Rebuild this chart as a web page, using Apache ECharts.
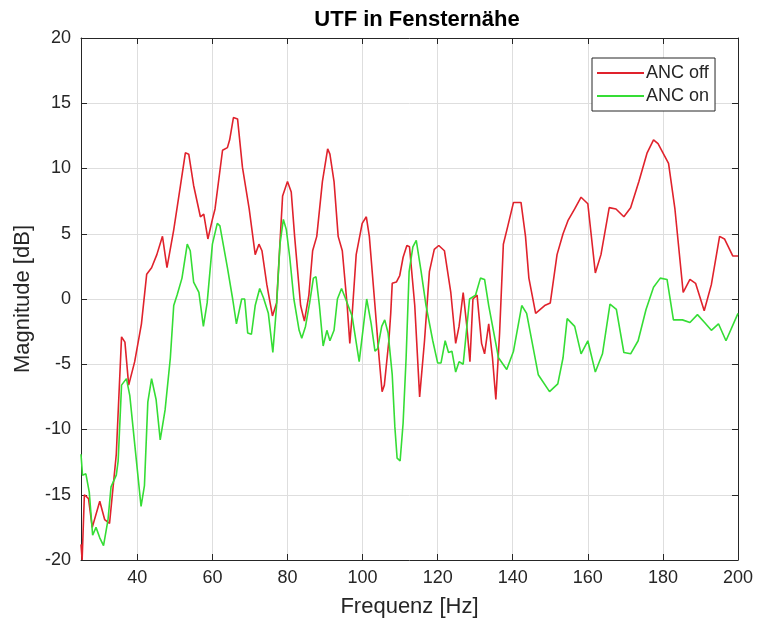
<!DOCTYPE html>
<html>
<head>
<meta charset="utf-8">
<script src="https://cdn.jsdelivr.net/npm/echarts@6/dist/echarts.min.js"></script>
<style>html,body{margin:0;padding:0;background:#fff;}#c{width:758px;height:626px;}</style>
</head>
<body>
<div id="c"></div>
<script>
const xTicks = [40, 60, 80, 100, 120, 140, 160, 180, 200];
const seriesNames = ['ANC off', 'ANC on'];

const offFreq = [25,25.3,25.9,27,28,30,31.3,32.6,34.4,35.8,36.7,37.7,39.3,41.1,42.5,43.8,45.2,46.7,47.9,49.7,51.5,52.8,53.7,55,56.8,57.7,58.8,60,60.7,62.7,64,64.6,65.6,66.7,68,69.8,71.4,72.4,73.2,74.5,76,77.1,78.7,80,81,81.9,83.5,84.5,85.7,86.7,87.8,89.3,90.7,91.3,92.4,93.5,94.6,95.9,96.6,97.2,98.3,99.9,101,101.8,103.3,104.4,105.2,105.8,107,107.5,107.9,109,109.9,110.8,111.8,112.5,113.9,115.2,116.5,117.8,119.1,120.3,121.8,123.5,124.8,125.7,126.8,127.7,128.6,129.4,130.5,131.7,132.5,133.6,134.6,135.5,136.5,137.5,138.7,140.2,142.2,143.4,144.3,146.1,148.5,150,151.8,153.4,154.7,156.5,158.2,160,162,163.5,165.7,167.5,169.6,171.4,173.6,175.8,177.5,178.7,181.5,183.2,185.4,187.2,188.7,191,192.9,195.1,196.4,198.6,200];
const offMag = [-18.8,-20,-15,-15.3,-17.5,-15.5,-16.9,-17.2,-11.9,-2.9,-3.3,-6.6,-4.8,-1.9,1.9,2.4,3.4,4.8,2.4,5.3,8.7,11.2,11.1,8.7,6.3,6.5,4.6,6.1,6.9,11.4,11.6,12.2,13.9,13.8,10.1,6.9,3.4,4.2,3.7,1.1,-1.3,-0.3,7.9,9,8.2,4.8,-0.5,-1.7,0.3,3.7,4.8,9,11.5,11.1,9,4.8,3.7,-0.5,-3.4,-1.3,3.4,5.8,6.3,4.8,-0.5,-4.5,-7.1,-6.6,-3.2,-1.1,1.2,1.3,1.8,3.2,4.1,4,-0.5,-7.5,-3.2,2.1,3.8,4.1,3.7,0.5,-3.4,-2.1,0.5,-1.9,-4.8,0,0.3,-3.4,-4.2,-1.9,-4.5,-7.7,-2.6,4.2,5.6,7.4,7.4,4.8,1.6,-1.1,-0.5,-0.3,3.4,5,6,6.9,7.8,7.3,2,3.4,7,6.9,6.3,7,9,11.2,12.2,11.9,10.4,6.9,0.5,1.5,1.2,-0.9,1.1,4.8,4.6,3.3,3.3];

const onFreq = [25,25.4,26.3,27.2,28.1,29,30,31,32.2,33,34.4,34.9,35.8,37.1,38,39.3,41,41.9,42.8,43.8,45,46.1,47.4,48.8,49.7,50.6,51.9,53.3,54.1,55,56.4,57.6,58.6,60,61.3,62,64,65.4,66.4,67.8,68.6,69.4,70.4,71.4,72.6,73.6,74.9,76.1,77.1,78,78.9,79.7,80.6,81.7,83.1,83.8,84.8,85.9,86.9,87.6,88.5,89.5,90.5,91.3,92.4,93.3,94.4,95.5,97.2,99.1,100.3,101.1,102.3,103.3,104,105.1,105.9,106.8,107.9,108.6,109.2,110,110.8,111.6,112.4,113.4,114.3,115.6,116.9,118.7,120,120.9,122,122.9,123.8,124.8,125.7,126.8,128.5,130.1,131.4,132.5,133.6,136.2,138.4,140.2,142.4,143.7,146.8,149.8,152,153.4,154.5,156.5,158.2,160,162,163.9,165.9,167.6,169.6,171.4,173.4,175.5,177.5,179.3,181.1,182.8,185.2,187.2,189.2,191.1,192.9,194.8,196.8,200];
const onMag = [-11.9,-13.5,-13.4,-14.8,-18.1,-17.5,-18.3,-18.9,-16.9,-14.4,-13.5,-12.4,-6.6,-6.1,-7.4,-11.1,-15.9,-14.3,-7.9,-6.1,-7.7,-10.8,-8.5,-4.5,-0.5,0.3,1.6,4.2,3.7,1.3,0.5,-2.1,-0.3,4.2,5.8,5.6,2.4,0,-1.9,0,0,-2.6,-2.7,-0.5,0.8,0.1,-1.1,-4.1,-0.5,4.2,6.1,5.3,3.2,0,-2.4,-3,-2.1,-0.3,1.6,1.7,-0.5,-3.6,-2.4,-3.2,-2.4,0,0.8,0,-1.3,-4.8,-1.9,0,-1.9,-4,-3.8,-2.1,-1.6,-2.6,-5.8,-9.8,-12.2,-12.4,-9.5,-4.5,2.1,4,4.5,2.1,-0.5,-3.2,-4.9,-4.9,-3.2,-4.1,-4,-5.6,-4.8,-5,0,0.3,1.6,1.5,-0.5,-4.5,-5.4,-4,-0.5,-1.1,-5.8,-7.1,-6.5,-4.5,-1.5,-2.1,-4.2,-3.2,-5.6,-4.2,-0.4,-0.8,-4.1,-4.2,-3.2,-0.8,0.9,1.6,1.5,-1.6,-1.6,-1.8,-1.2,-1.8,-2.4,-1.9,-3.2,-1.1];

const FONT = "'Liberation Sans', Arial, sans-serif";
const TXT = '#262626';
const pairs = (xs, ys) => xs.map((x, i) => [x, ys[i]]);

const chart = echarts.init(document.getElementById('c'), null, {renderer: 'canvas'});
const axisLineStyle = {show: true, onZero: false, lineStyle: {color: TXT, width: 1}};
chart.setOption({
  animation: false,
  backgroundColor: '#fff',
  title: {
    text: 'UTF in Fensternähe',
    left: 412, top: 4, textAlign: 'center',
    textStyle: {fontFamily: FONT, fontSize: 22, fontWeight: 'bold', color: '#000'}
  },
  grid: {left: 81, right: 20, top: 38, bottom: 66, containLabel: false},
  legend: {
    left: 592, top: 58, orient: 'vertical',
    backgroundColor: '#fff', borderColor: TXT, borderWidth: 1, borderRadius: 0,
    padding: [6, 6, 6, 5], itemGap: 5, itemWidth: 47, itemHeight: 2, icon: 'rect',
    textStyle: {fontFamily: FONT, fontSize: 18, color: TXT, padding: [0, 0, 0, -3]},
    data: seriesNames
  },
  xAxis: [{
    type: 'value', min: 25, max: 200, position: 'bottom',
    name: 'Frequenz [Hz]', nameLocation: 'middle', nameGap: 36,
    nameTextStyle: {fontFamily: FONT, fontSize: 22, color: TXT},
    axisLine: axisLineStyle,
    axisTick: {inside: true, length: 6, customValues: xTicks, lineStyle: {color: TXT}},
    axisLabel: {customValues: xTicks, fontFamily: FONT, fontSize: 18, color: TXT, margin: 9},
    splitLine: {show: true, lineStyle: {color: '#dedede', width: 1}}
  }, {
    type: 'value', min: 25, max: 200, position: 'top',
    axisLine: axisLineStyle,
    axisTick: {inside: true, length: 6, customValues: xTicks, lineStyle: {color: TXT}},
    axisLabel: {show: false}, splitLine: {show: false}
  }],
  yAxis: [{
    type: 'value', min: -20, max: 20, interval: 5, position: 'left',
    name: 'Magnitude [dB]', nameLocation: 'middle', nameGap: 42, nameRotate: 90,
    nameTextStyle: {fontFamily: FONT, fontSize: 22, color: TXT},
    axisLine: axisLineStyle,
    axisTick: {show: true, inside: true, length: 6, lineStyle: {color: TXT}},
    axisLabel: {fontFamily: FONT, fontSize: 18, color: TXT, margin: 10},
    splitLine: {show: true, lineStyle: {color: '#dedede', width: 1}}
  }, {
    type: 'value', min: -20, max: 20, interval: 5, position: 'right',
    axisLine: axisLineStyle,
    axisTick: {show: true, inside: true, length: 6, lineStyle: {color: TXT}},
    axisLabel: {show: false}, splitLine: {show: false}
  }],
  series: [{
    name: seriesNames[0], type: 'line', data: pairs(offFreq, offMag),
    xAxisIndex: 0, yAxisIndex: 0,
    showSymbol: false, symbol: 'none', smooth: false,
    lineStyle: {color: '#e0222c', width: 1.6}, itemStyle: {color: '#e0222c'}
  }, {
    name: seriesNames[1], type: 'line', data: pairs(onFreq, onMag),
    xAxisIndex: 0, yAxisIndex: 0,
    showSymbol: false, symbol: 'none', smooth: false,
    lineStyle: {color: '#35dd35', width: 1.6}, itemStyle: {color: '#35dd35'}
  }]
});
</script>
</body>
</html>
